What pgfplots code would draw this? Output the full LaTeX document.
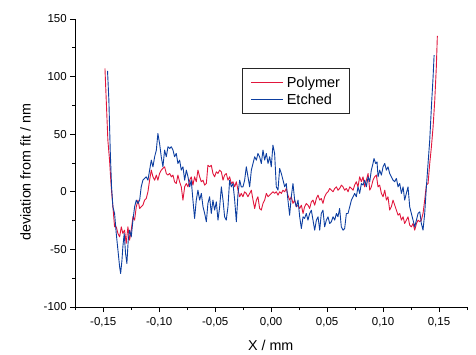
\documentclass[border=0pt]{standalone}
\usepackage{fontspec}
\setmainfont{Liberation Sans}
\usepackage{pgfplots}
\pgfplotsset{compat=1.18}
\definecolor{polyred}{RGB}{225,22,60}
\definecolor{etchblue}{RGB}{12,62,160}
\begin{document}
\begin{tikzpicture}
\begin{axis}[
  width=391.7pt, height=288pt, scale only axis,
  xmin=-0.175, xmax=0.175, ymin=-100, ymax=150,
  axis x line=bottom, axis y line=left,
  axis line style={-, black, line width=0.8pt},
  tick align=outside,
  major tick length=5pt, minor tick length=3pt,
  every tick/.style={black, line width=0.8pt},
  xtick={-0.15,-0.10,-0.05,0,0.05,0.10,0.15},
  minor xtick={-0.175,-0.125,-0.075,-0.025,0.025,0.075,0.125,0.175},
  ytick={-100,-50,0,50,100,150},
  minor ytick={-75,-25,25,75,125},
  /pgf/number format/assume math mode=true,
  ticklabel style={font=\fontsize{11.5}{13}\selectfont},
  xticklabel style={yshift=-1.5pt, /pgf/number format/.cd, fixed, fixed zerofill, precision=2, use comma},
  yticklabel style={/pgf/number format/.cd, fixed, precision=0},
  scaled x ticks=false,
  xlabel={X / mm}, ylabel={deviation from fit / nm},
  label style={font=\fontsize{14.3}{17}\selectfont},
  xlabel style={at={(axis description cs:0.4989,-0.1493)}, anchor=base},
  ylabel style={at={(axis description cs:-0.1139,0.469)}, anchor=base, rotate=0},
  legend style={at={(axis description cs:0.4256,0.8288)}, anchor=north west,
    draw=black!85, line width=0.8pt, fill=white,
    font=\fontsize{14.5}{17}\selectfont,
    inner xsep=8.5pt, inner ysep=7pt, row sep=3pt, column sep=2pt,
    nodes={inner sep=1pt}},
  legend cell align=left,
  legend image code/.code={\draw[#1, line width=0.9pt] (0pt,0pt) -- (32pt,0pt);},
]
\addplot[polyred, line width=0.9pt, line join=round] coordinates {
(-0.1485,107.1) (-0.1459,44.8) (-0.1444,27.5) (-0.1429,4.3) (-0.1414,-13.0)
(-0.1399,-30.4) (-0.1384,-30.4) (-0.1369,-36.2) (-0.1354,-39.1) (-0.1339,-30.4)
(-0.1325,-36.2) (-0.1310,-33.3) (-0.1295,-44.8) (-0.1280,-30.4) (-0.1265,-42.0)
(-0.1250,-33.3) (-0.1235,-21.7) (-0.1220,-24.6) (-0.1205,-13.0) (-0.1190,-7.2)
(-0.1175,-14.5) (-0.1161,-13.0) (-0.1146,-11.6) (-0.1131,-7.2) (-0.1116,-5.8)
(-0.1101,0) (-0.1086,10.1) (-0.1071,18.8) (-0.1056,13.0) (-0.1041,10.1)
(-0.1026,14.5) (-0.1012,10.1) (-0.0997,15.9) (-0.0982,18.8) (-0.0967,20.3)
(-0.0952,21.7) (-0.0937,15.9) (-0.0922,14.5) (-0.0907,15.9) (-0.0892,13.0)
(-0.0877,14.5) (-0.0863,8.7) (-0.0848,7.2) (-0.0833,14.5) (-0.0818,8.7)
(-0.0803,4.3) (-0.0788,-7.2) (-0.0773,4.3) (-0.0758,7.2) (-0.0743,4.3)
(-0.0728,10.1) (-0.0714,13.0) (-0.0699,5.8) (-0.0684,13.0) (-0.0669,8.7)
(-0.0654,18.8) (-0.0639,13.0) (-0.0624,8.7) (-0.0609,10.1) (-0.0594,5.8)
(-0.0579,7.2) (-0.0565,23.1) (-0.0550,21.7) (-0.0535,23.1) (-0.0520,15.9)
(-0.0505,13.0) (-0.0490,17.4) (-0.0475,15.9) (-0.0460,18.8) (-0.0445,17.4)
(-0.0430,10.1) (-0.0416,14.5) (-0.0401,15.9) (-0.0386,10.1) (-0.0371,13.0)
(-0.0356,7.2) (-0.0341,8.7) (-0.0326,4.3) (-0.0311,8.7) (-0.0296,1.4)
(-0.0281,-4.3) (-0.0267,-1.4) (-0.0252,-4.3) (-0.0237,0) (-0.0222,-1.4)
(-0.0207,-4.3) (-0.0192,-1.4) (-0.0177,1.4) (-0.0162,-7.2) (-0.0147,-14.5)
(-0.0132,-7.2) (-0.0118,-4.3) (-0.0103,-14.5) (-0.0088,-15.9) (-0.0073,-10.1)
(-0.0058,-7.2) (-0.0043,-1.4) (-0.0028,-4.3) (-0.0013,-2.9) (0.0001,-1.4)
(0.0016,0) (0.0031,-1.4) (0.0046,0) (0.0061,-2.9) (0.0076,0)
(0.0091,-1.4) (0.0106,1.4) (0.0121,0) (0.0135,2.9) (0.0150,-2.9)
(0.0165,-7.2) (0.0180,-4.3) (0.0195,-10.1) (0.0210,-7.2) (0.0225,-13.0)
(0.0240,-11.6) (0.0255,-14.5) (0.0270,-11.6) (0.0285,-18.8) (0.0299,-13.0)
(0.0314,-10.1) (0.0329,-11.6) (0.0344,-14.5) (0.0359,-8.7) (0.0374,-7.2)
(0.0389,-11.6) (0.0404,-5.8) (0.0419,-2.9) (0.0434,-7.2) (0.0448,-5.8)
(0.0463,-10.1) (0.0478,-4.3) (0.0493,-1.4) (0.0508,0) (0.0523,2.9)
(0.0538,1.4) (0.0553,0) (0.0568,2.9) (0.0583,4.3) (0.0597,1.4)
(0.0612,2.9) (0.0627,5.8) (0.0642,4.3) (0.0657,1.4) (0.0672,2.9)
(0.0687,0) (0.0702,4.3) (0.0717,2.9) (0.0732,1.4) (0.0746,5.8)
(0.0761,8.7) (0.0776,4.3) (0.0791,13.0) (0.0806,8.7) (0.0821,13.0)
(0.0836,4.3) (0.0851,10.1) (0.0866,15.9) (0.0881,1.4) (0.0895,4.3)
(0.0910,10.1) (0.0925,13.0) (0.0940,14.5) (0.0955,4.3) (0.0970,5.8)
(0.0985,-1.4) (0.1000,-4.3) (0.1015,1.4) (0.1030,-7.2) (0.1044,-4.3)
(0.1059,-15.9) (0.1074,-13.0) (0.1089,-7.2) (0.1104,-11.6) (0.1119,-15.9)
(0.1134,-20.3) (0.1149,-18.8) (0.1164,-24.6) (0.1179,-21.7) (0.1193,-27.5)
(0.1208,-24.6) (0.1223,-21.7) (0.1238,-28.9) (0.1253,-30.4) (0.1268,-27.5)
(0.1283,-33.3) (0.1298,-27.5) (0.1313,-24.6) (0.1328,-26.0) (0.1342,-24.6)
(0.1357,-18.8) (0.1372,-7.2) (0.1387,5.8) (0.1402,7.2) (0.1417,24.6)
(0.1432,39.1) (0.1447,56.4) (0.1462,79.6) (0.1476,108.5) (0.1485,135.4)
};
\addlegendentry{Polymer}
\addplot[etchblue, line width=0.9pt, line join=round] coordinates {
(-0.1462,105.0) (-0.1450,79.6) (-0.1438,36.2) (-0.1426,4.3) (-0.1414,-13.0)
(-0.1399,-18.8) (-0.1384,-36.2) (-0.1369,-50.6) (-0.1354,-65.1) (-0.1345,-70.9)
(-0.1333,-59.3) (-0.1325,-47.7) (-0.1313,-36.2) (-0.1301,-53.5) (-0.1289,-62.2)
(-0.1277,-42.0) (-0.1265,-33.3) (-0.1250,-39.1) (-0.1235,-24.6) (-0.1220,-13.0)
(-0.1205,-7.2) (-0.1190,-10.1) (-0.1175,-7.2) (-0.1161,4.3) (-0.1146,10.1)
(-0.1131,11.6) (-0.1116,13.0) (-0.1101,10.1) (-0.1086,18.8) (-0.1071,27.5)
(-0.1056,21.7) (-0.1041,30.4) (-0.1026,36.2) (-0.1012,50.6) (-0.0997,42.0)
(-0.0982,30.4) (-0.0967,21.7) (-0.0952,36.2) (-0.0937,30.4) (-0.0922,39.1)
(-0.0907,37.6) (-0.0892,39.1) (-0.0877,36.2) (-0.0863,30.4) (-0.0848,33.3)
(-0.0833,24.6) (-0.0818,27.5) (-0.0803,18.8) (-0.0788,21.7) (-0.0773,10.1)
(-0.0758,18.8) (-0.0743,13.0) (-0.0728,4.3) (-0.0714,10.1) (-0.0699,-7.2)
(-0.0684,-23.1) (-0.0669,-7.2) (-0.0654,1.4) (-0.0639,-7.2) (-0.0624,-1.4)
(-0.0609,-13.0) (-0.0594,-18.8) (-0.0579,-26.0) (-0.0565,-10.1) (-0.0550,-4.3)
(-0.0535,-18.8) (-0.0520,-7.2) (-0.0505,-15.9) (-0.0490,-8.7) (-0.0475,-24.6)
(-0.0460,-13.0) (-0.0445,4.3) (-0.0430,-7.2) (-0.0416,-21.7) (-0.0401,-24.6)
(-0.0386,-13.0) (-0.0371,10.1) (-0.0356,4.3) (-0.0341,7.2) (-0.0326,-7.2)
(-0.0311,-26.0) (-0.0296,-1.4) (-0.0281,10.1) (-0.0267,4.3) (-0.0252,4.3)
(-0.0237,10.1) (-0.0222,21.7) (-0.0207,13.0) (-0.0192,4.3) (-0.0177,18.8)
(-0.0162,24.6) (-0.0147,30.4) (-0.0132,27.5) (-0.0118,33.3) (-0.0103,30.4)
(-0.0088,24.6) (-0.0073,36.2) (-0.0058,27.5) (-0.0043,33.3) (-0.0028,24.6)
(-0.0013,30.4) (0.0001,21.7) (0.0016,40.5) (0.0031,33.3) (0.0046,4.3)
(0.0061,1.4) (0.0076,20.3) (0.0091,15.9) (0.0106,10.1) (0.0121,4.3)
(0.0135,7.2) (0.0150,-7.2) (0.0165,-20.3) (0.0180,-4.3) (0.0195,7.2)
(0.0210,-7.2) (0.0225,-13.0) (0.0240,-7.2) (0.0255,-21.7) (0.0270,-31.8)
(0.0285,-21.7) (0.0299,-23.1) (0.0314,-18.8) (0.0329,-24.6) (0.0344,-18.8)
(0.0359,-15.9) (0.0374,-24.6) (0.0389,-33.3) (0.0404,-24.6) (0.0419,-21.7)
(0.0434,-33.3) (0.0448,-18.8) (0.0463,-15.9) (0.0478,-30.4) (0.0493,-24.6)
(0.0508,-21.7) (0.0523,-27.5) (0.0538,-26.0) (0.0553,-21.7) (0.0568,-24.6)
(0.0583,-18.8) (0.0597,-21.7) (0.0612,-14.5) (0.0627,-30.4) (0.0642,-33.3)
(0.0657,-31.8) (0.0672,-18.8) (0.0687,-18.8) (0.0702,-13.0) (0.0717,-7.2)
(0.0732,-4.3) (0.0746,-1.4) (0.0761,-4.3) (0.0776,4.3) (0.0791,-1.4)
(0.0806,7.2) (0.0821,5.8) (0.0836,10.1) (0.0851,4.3) (0.0866,13.0)
(0.0881,8.7) (0.0895,18.8) (0.0910,24.6) (0.0919,28.9) (0.0934,24.6)
(0.0946,26.0) (0.0955,13.0) (0.0970,18.8) (0.0985,14.5) (0.1000,21.7)
(0.1015,24.6) (0.1030,18.8) (0.1044,21.7) (0.1059,15.9) (0.1074,13.0)
(0.1089,10.1) (0.1104,8.7) (0.1119,11.6) (0.1134,4.3) (0.1149,7.2)
(0.1164,-1.4) (0.1179,4.3) (0.1193,-7.2) (0.1208,-1.4) (0.1223,4.3)
(0.1238,-13.0) (0.1253,-18.8) (0.1268,-24.6) (0.1283,-30.4) (0.1298,-24.6)
(0.1313,-18.8) (0.1328,-17.4) (0.1342,-27.5) (0.1357,-33.3) (0.1372,-18.8)
(0.1387,4.3) (0.1402,24.6) (0.1417,44.8) (0.1432,73.8) (0.1447,99.8)
(0.1456,118.6)
};
\addlegendentry{Etched}
\end{axis}
\pgfresetboundingbox
\path ([shift={(-75.3pt,-47pt)}]current axis.south west) rectangle ([shift={(9pt,19pt)}]current axis.north east);
\end{tikzpicture}
\end{document}
